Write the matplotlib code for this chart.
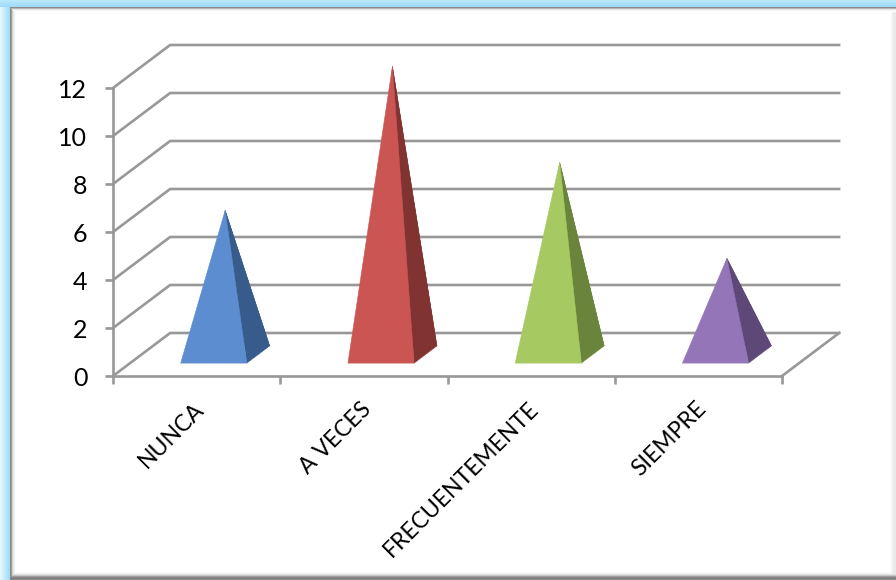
import numpy as np
import matplotlib
matplotlib.use('Agg')
import matplotlib.pyplot as plt
from matplotlib.patches import Polygon
from matplotlib.transforms import ScaledTranslation

plt.rcParams['font.family'] = ['Lato', 'DejaVu Sans']

categories = ['NUNCA', 'A VECES', 'FRECUENTEMENTE', 'SIEMPRE']
values = [6, 12, 8, 4]
y_ticks = [0, 2, 4, 6, 8, 10, 12]

front_colors = ['#5b8dd0', '#cb5552', '#a6c961', '#9475b8']
side_colors = ['#375c8b', '#803331', '#6b843c', '#5e4878']
grid_color = '#989898'
line_w = 1.9

W, H = 896, 580
# plot box in pixels
LEFT, RIGHT, BOTTOM, TOP = 113, 782, 376, 88
# oblique depth of the 3D box, in data units
DX = 57 / 167
DY = 43 / 24
# pyramid footprint
HALF_W = 33 / 167
D_FRONT = 0.30
D_BACK = 0.70


def project(x, v, d):
    return x + d * DX, v + d * DY


def face(ax, pts, color, z=3):
    xy = [project(*p) for p in pts]
    ax.add_patch(Polygon(xy, closed=True, facecolor=color, edgecolor=color,
                         linewidth=0.4, zorder=z, clip_on=False))


fig = plt.figure(figsize=(W / 100, H / 100), dpi=100)

# background frame: blue glow on the top and left, grey bevel inside
bg = fig.add_axes([0, 0, 1, 1], zorder=0)
bg.set_axis_off()
img = np.ones((H, W, 3))
blue_far = np.array([0.90, 0.97, 1.0])
blue_near = np.array([0.62, 0.86, 0.97])
for i in range(10):
    img[:, i] = blue_far + (blue_near - blue_far) * i / 9
for j in range(7):
    img[j, :] = np.array([0.72, 0.91, 0.99]) + (blue_near - np.array([0.72, 0.91, 0.99])) * j / 6
for i, g in zip(range(10, 16), [0.55, 0.62, 0.82, 0.90, 0.96, 0.99]):
    img[7:, i] = g
for j, g in zip(range(7, 12), [0.55, 0.72, 0.90, 0.97, 0.99]):
    img[j, 10 + (j - 7):] = g
for i, g in zip(range(890, 896), [0.99, 0.97, 0.95, 0.92, 0.92, 0.92]):
    img[12:, i] = np.minimum(img[12:, i], g)
for j, g in zip(range(572, 580), [0.98, 0.95, 0.88, 0.78, 0.62, 0.52, 0.50, 0.55]):
    img[j, 10:] = np.minimum(img[j, 10:], g)
bg.imshow(img, extent=(0, W, H, 0), aspect='auto', interpolation='bilinear')

ax = fig.add_axes([LEFT / W, (H - BOTTOM) / H, (RIGHT - LEFT) / W, (BOTTOM - TOP) / H], zorder=1)
ax.patch.set_alpha(0)
ax.set_xlim(0, len(categories))
ax.set_ylim(0, 12)

# back wall, side wall and floor lines
x_end = len(categories)
for v in y_ticks:
    xs, ys = zip(project(0, v, 0), project(0, v, 1), project(x_end, v, 1))
    ax.plot(xs, ys, color=grid_color, lw=line_w, zorder=1, clip_on=False, solid_joinstyle='miter')
xs, ys = zip(project(x_end, 0, 0), project(x_end, 0, 1))
ax.plot(xs, ys, color=grid_color, lw=line_w, zorder=1, clip_on=False)

for spine in ['top', 'right']:
    ax.spines[spine].set_visible(False)
for spine in ['left', 'bottom']:
    ax.spines[spine].set_color(grid_color)
    ax.spines[spine].set_linewidth(line_w)

ax.set_yticks(y_ticks)
ax.tick_params(axis='y', length=5.5, width=line_w, color=grid_color, labelsize=18, pad=13)
ax.set_xticks(range(len(categories) + 1))
ax.set_xticklabels([])
ax.tick_params(axis='x', which='major', length=5.5, width=line_w, color=grid_color)
ax.set_xticks(np.arange(len(categories)) + 0.5, minor=True)
ax.set_xticklabels(categories, minor=True, rotation=45, ha='right', va='top',
                   rotation_mode='anchor', fontsize=16.5)
ax.tick_params(axis='x', which='minor', length=0, pad=16)
shift = ScaledTranslation(-3 / 100, 0, fig.dpi_scale_trans)
for label in ax.get_xticklabels(minor=True):
    label.set_transform(label.get_transform() + shift)

# pyramids: front face and right side face, apex over the centre of the base
for i, val in enumerate(values):
    c = i + 0.5
    d_mid = (D_FRONT + D_BACK) / 2
    apex = (c, val, d_mid)
    face(ax, [(c - HALF_W, 0, D_BACK), (c + HALF_W, 0, D_BACK), apex], side_colors[i], z=2)
    face(ax, [(c + HALF_W, 0, D_FRONT), (c + HALF_W, 0, D_BACK), apex], side_colors[i], z=3)
    face(ax, [(c - HALF_W, 0, D_FRONT), (c + HALF_W, 0, D_FRONT), apex], front_colors[i], z=4)

fig.savefig('out.png', dpi=100)
